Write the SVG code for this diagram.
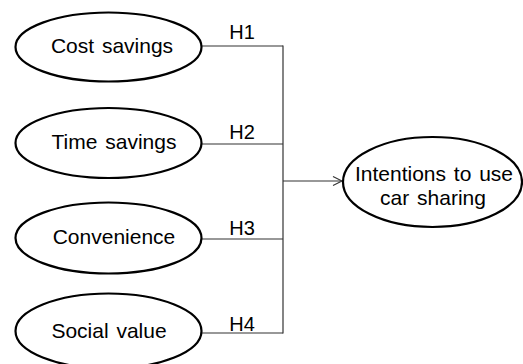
<svg xmlns="http://www.w3.org/2000/svg" width="523" height="364" viewBox="0 0 523 364">
  <defs>
    <style>
      .node ellipse { fill: #ffffff; stroke: #000000; stroke-width: 2.2; }
      .label { font-family: "Liberation Sans", Arial, sans-serif; font-size: 21px; fill: #000000; text-anchor: middle; word-spacing: 2px; }
      .hyp { font-family: "Liberation Sans", Arial, sans-serif; font-size: 20px; fill: #000000; text-anchor: middle; }
      .wire { fill: none; stroke: #333333; stroke-width: 1.2; }
    </style>
    <marker id="open-arrow" markerWidth="12" markerHeight="12" refX="10" refY="6" orient="auto" markerUnits="userSpaceOnUse">
      <path d="M1,1.5 L10,6 L1,10.5" fill="none" stroke="#333333" stroke-width="1.1"/>
    </marker>
  </defs>
  <rect width="523" height="364" fill="#ffffff"/>

  <!-- connectors: each predictor joins a common bus that feeds the outcome -->
  <g id="connectors">
    <path class="wire" d="M202,46 H283"/>
    <path class="wire" d="M202,144 H283"/>
    <path class="wire" d="M202,239 H283"/>
    <path class="wire" d="M202,333 H283"/>
    <path class="wire" d="M283,45.5 V333.5"/>
    <path class="wire" d="M283,181 H342" marker-end="url(#open-arrow)"/>
    <text class="hyp" x="242" y="39">H1</text>
    <text class="hyp" x="242" y="139">H2</text>
    <text class="hyp" x="242" y="235">H3</text>
    <text class="hyp" x="242" y="331">H4</text>
  </g>

  <g id="cost-savings" class="node">
    <ellipse cx="108.5" cy="47" rx="93" ry="34.5"/>
    <text class="label" x="112" y="53">Cost savings</text>
  </g>

  <g id="time-savings" class="node">
    <ellipse cx="108.5" cy="143" rx="93" ry="35"/>
    <text class="label" x="114" y="149">Time savings</text>
  </g>

  <g id="convenience" class="node">
    <ellipse cx="108.5" cy="238" rx="93" ry="35.5"/>
    <text class="label" x="114" y="244">Convenience</text>
  </g>

  <g id="social-value" class="node">
    <ellipse cx="108.5" cy="331" rx="93" ry="37.5"/>
    <text class="label" x="109" y="338">Social value</text>
  </g>

  <g id="intentions" class="node">
    <ellipse cx="432.5" cy="182" rx="89.5" ry="45"/>
    <text class="label" x="434" y="181">Intentions to use</text>
    <text class="label" x="433" y="205">car sharing</text>
  </g>
</svg>
